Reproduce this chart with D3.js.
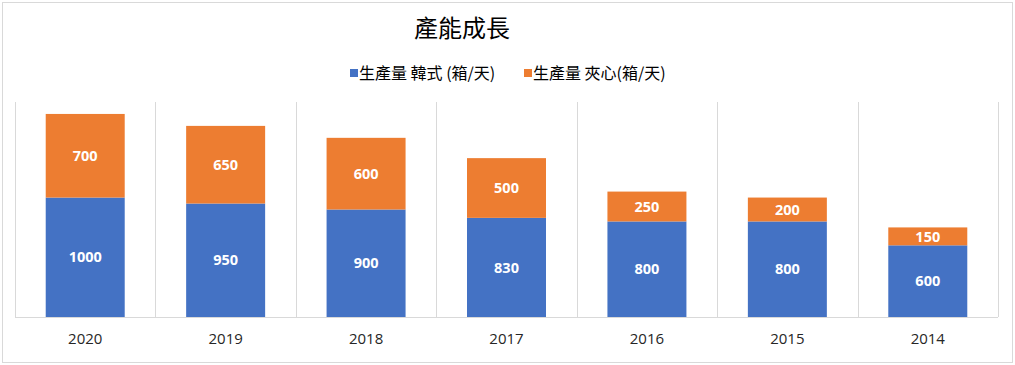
<!DOCTYPE html>
<html><head><meta charset="utf-8">
<script src="https://cdn.jsdelivr.net/npm/d3@7"></script>
<style>body{margin:0;background:#fff;} svg{display:block;}</style>
</head><body>
<svg id="c" width="1015" height="365"></svg>
<script>
const categories = ["2020","2019","2018","2017","2016","2015","2014"];
const seriesNames = ["生產量 韓式 (箱/天)", "生產量 夾心(箱/天)"];
const korean = [1000, 950, 900, 830, 800, 800, 600];
const filling = [700, 650, 600, 500, 250, 200, 150];
const colors = ["#4472C4", "#ED7D31"];
const yMax = 1800;

(function(){
const svg = d3.select("#c");
const W = 1015, H = 365;
svg.append("rect").attr("x",2.5).attr("y",2.5).attr("width",W-5).attr("height",H-5)
  .attr("fill","#fff").attr("stroke","#d9d9d9");

const pLeft = 15, pRight = 998, pTop = 102, pBottom = 317;
const x = d3.scaleBand().domain(categories).range([pLeft, pRight]).paddingInner(0).paddingOuter(0);
const y = d3.scaleLinear().domain([0, yMax]).range([pBottom, pTop]);

const g = svg.append("g");
const edges = categories.map(c => x(c)).concat([pRight]);
g.selectAll("line.v").data(edges).enter().append("line")
  .attr("x1", d => Math.round(d) + 0.5).attr("x2", d => Math.round(d) + 0.5)
  .attr("y1", pTop).attr("y2", pBottom)
  .attr("stroke", "#d9d9d9").attr("stroke-width", 1);

const data = categories.map((c,i) => ({cat:c, korean:korean[i], filling:filling[i]}));
const stack = d3.stack().keys(["korean","filling"])(data);
const bw = x.bandwidth() * 0.5625;

stack.forEach((layer, li) => {
  const gl = svg.append("g");
  gl.selectAll("rect").data(layer).enter().append("rect")
    .attr("x", d => x(d.data.cat) + (x.bandwidth() - bw) / 2)
    .attr("width", bw)
    .attr("y", d => y(d[1]))
    .attr("height", d => y(d[0]) - y(d[1]))
    .attr("fill", colors[li]);
  gl.selectAll("text").data(layer).enter().append("text")
    .attr("x", d => x(d.data.cat) + x.bandwidth() / 2)
    .attr("y", d => (y(d[0]) + y(d[1])) / 2)
    .attr("dy", "0.36em")
    .attr("text-anchor", "middle")
    .attr("fill", "#fff")
    .attr("font-family", "'Open Sans', 'Noto Sans', sans-serif")
    .attr("font-weight", "bold")
    .attr("font-size", 14.5)
    .text(d => d[1] - d[0]);
});

const xAxis = d3.axisBottom(x).tickSize(0).tickPadding(16);
const ax = svg.append("g").attr("transform", `translate(0,${pBottom})`).call(xAxis);
ax.select(".domain").attr("stroke", "#d9d9d9").attr("d", `M${pLeft},0.5H${pRight}`);
ax.selectAll("text").attr("font-family", "'Open Sans', 'Noto Sans', sans-serif")
  .attr("font-size", 15).attr("fill", "#262626");

svg.append("text").attr("x", 462).attr("y", 28).attr("dy", "0.36em")
  .attr("text-anchor", "middle")
  .attr("font-family", "'Noto Sans CJK TC', sans-serif")
  .attr("font-size", 24).attr("fill", "#000")
  .text("產能成長");

const legendItems = [{x: 350, name: seriesNames[0], c: colors[0]}, {x: 524, name: seriesNames[1], c: colors[1]}];
const lg = svg.append("g");
legendItems.forEach(it => {
  lg.append("rect").attr("x", it.x).attr("y", 69).attr("width", 8).attr("height", 8).attr("fill", it.c);
  lg.append("text").attr("x", it.x + 9).attr("y", 73).attr("dy", "0.36em")
    .attr("font-family", "'Noto Sans CJK TC', sans-serif").attr("font-size", 16).attr("fill", "#000")
    .text(it.name);
});
})();
</script>
</body></html>
